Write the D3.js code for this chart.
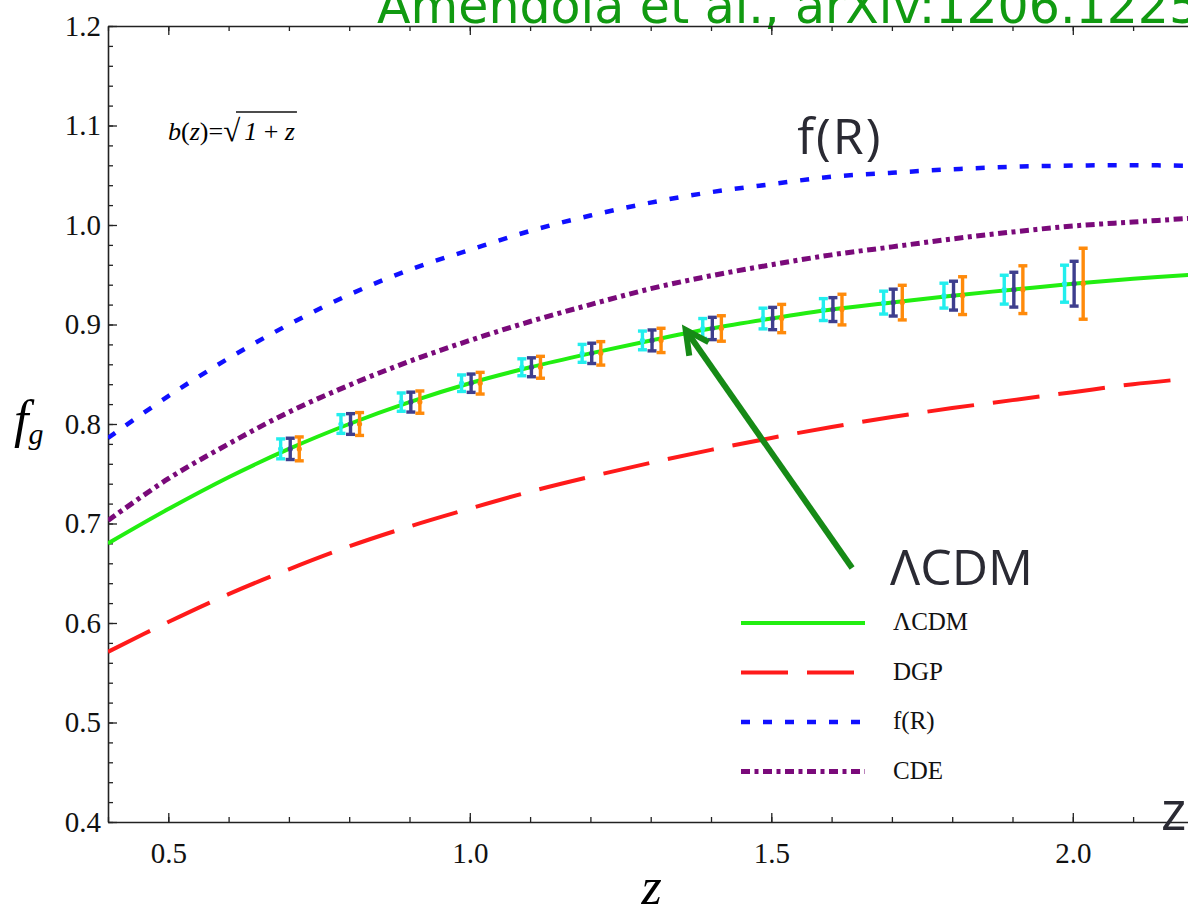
<!DOCTYPE html>
<html>
<head>
<meta charset="utf-8">
<script src="https://cdn.jsdelivr.net/npm/d3@7"></script>
<style>
  body { margin: 0; background: #fff; }
  .tick line { stroke: #222; stroke-width: 1.3; }
  .domain { stroke: #222; stroke-width: 1.6; }
</style>
</head>
<body>
<svg class="chart"></svg>
<script>
// redshift grid of the model curves
var zGrid = [0.4, 0.5, 0.6, 0.7, 0.8, 0.9, 1.0, 1.1, 1.2, 1.3, 1.4, 1.5, 1.6, 1.7, 1.8, 1.9, 2.0, 2.1, 2.2];
var lcdm = [0.680, 0.7145, 0.7465, 0.775, 0.800, 0.822, 0.841, 0.857, 0.871, 0.884, 0.896, 0.906, 0.915, 0.922, 0.929, 0.935, 0.941, 0.946, 0.950];
var dgp  = [0.571, 0.601, 0.629, 0.654, 0.677, 0.697, 0.715, 0.732, 0.747, 0.761, 0.774, 0.786, 0.797, 0.807, 0.816, 0.824, 0.832, 0.840, 0.846];
var fR   = [0.786, 0.828, 0.866, 0.900, 0.930, 0.955, 0.975, 0.994, 1.0095, 1.0225, 1.033, 1.041, 1.0485, 1.0525, 1.056, 1.0585, 1.0597, 1.0601, 1.0595];
var cde  = [0.703, 0.745, 0.780, 0.812, 0.839, 0.863, 0.884, 0.903, 0.920, 0.936, 0.949, 0.960, 0.970, 0.978, 0.986, 0.993, 0.999, 1.003, 1.007];

// forecast points (three surveys) on the LCDM curve
var zData  = [0.7, 0.8, 0.9, 1.0, 1.1, 1.2, 1.3, 1.4, 1.5, 1.6, 1.7, 1.8, 1.9, 2.0];
var fgData = [0.775, 0.800, 0.822, 0.841, 0.857, 0.871, 0.884, 0.896, 0.906, 0.915, 0.922, 0.929, 0.935, 0.941];
var errCyan   = [0.0100, 0.0094, 0.0092, 0.0083, 0.0085, 0.0090, 0.0094, 0.0100, 0.0104, 0.0110, 0.0115, 0.0125, 0.0145, 0.0186];
var errNavy   = [0.0107, 0.0104, 0.0100, 0.0092, 0.0095, 0.0102, 0.0105, 0.0112, 0.0112, 0.0120, 0.0135, 0.0145, 0.0175, 0.0225];
var errOrange = [0.0120, 0.0115, 0.0112, 0.0109, 0.0110, 0.0118, 0.0122, 0.0128, 0.0142, 0.0154, 0.0174, 0.0190, 0.0240, 0.0357];

// ticks
var xMajorTicks = [0.5, 1.0, 1.5, 2.0];
var xMinorTicks = [0.4, 0.5, 0.6, 0.7, 0.8, 0.9, 1.0, 1.1, 1.2, 1.3, 1.4, 1.5, 1.6, 1.7, 1.8, 1.9, 2.0, 2.1, 2.2];
var yMajorTicks = [0.4, 0.5, 0.6, 0.7, 0.8, 0.9, 1.0, 1.1, 1.2];
var yMinorTicks = d3.range(20, 61, 1).map(function (d) { return d / 50; });

var legendNames = ["\u039BCDM", "DGP", "f(R)", "CDE"];

var width = 1188, height = 914;

var svg = d3.select("svg.chart")
    .attr("width", width)
    .attr("height", height);

svg.append("rect").attr("width", width).attr("height", height).attr("fill", "#fff");

// scales
var x = d3.scaleLinear().domain([0.4, 2.2]).range([108, 1193.4]);
var y = d3.scaleLinear().domain([0.4, 1.2]).range([822, 26]);

svg.append("clipPath").attr("id", "plotclip")
    .append("rect")
    .attr("x", x(0.4)).attr("y", y(1.2))
    .attr("width", x(2.2) - x(0.4)).attr("height", y(0.4) - y(1.2));

// title (cut off at the top in the source)
svg.append("text")
    .text("Amendola et al., arXiv:1206.1225")
    .attr("x", 377)
    .attr("y", 23)
    .attr("font-family", "DejaVu Sans")
    .attr("font-size", 49)
    .attr("fill", "#119a11");

// frame axes, ticks point inward
function tickLabels(g, size) {
    g.selectAll("text")
        .attr("font-family", "Liberation Serif")
        .attr("font-size", size)
        .attr("fill", "#111");
}

svg.append("g")
    .attr("transform", "translate(0," + y(0.4) + ")")
    .call(d3.axisBottom(x).tickValues(xMinorTicks).tickSize(-5).tickSizeOuter(0).tickFormat(""));
svg.append("g")
    .attr("transform", "translate(0," + y(0.4) + ")")
    .call(d3.axisBottom(x).tickValues(xMajorTicks).tickSize(-9).tickSizeOuter(0)
        .tickPadding(20).tickFormat(d3.format(".1f")))
    .call(function (g) { g.select(".domain").remove(); tickLabels(g, 29); });

svg.append("g")
    .attr("transform", "translate(0," + y(1.2) + ")")
    .call(d3.axisTop(x).tickValues(xMinorTicks).tickSize(-5).tickSizeOuter(0).tickFormat(""));
svg.append("g")
    .attr("transform", "translate(0," + y(1.2) + ")")
    .call(d3.axisTop(x).tickValues(xMajorTicks).tickSize(-9).tickSizeOuter(0).tickFormat(""))
    .call(function (g) { g.select(".domain").remove(); });

svg.append("g")
    .attr("transform", "translate(" + x(0.4) + ",0)")
    .call(d3.axisLeft(y).tickValues(yMinorTicks).tickSize(-5).tickSizeOuter(0).tickFormat(""));
svg.append("g")
    .attr("transform", "translate(" + x(0.4) + ",0)")
    .call(d3.axisLeft(y).tickValues(yMajorTicks).tickSize(-9).tickSizeOuter(0)
        .tickPadding(7).tickFormat(d3.format(".1f")))
    .call(function (g) { g.select(".domain").remove(); tickLabels(g, 29); });

svg.append("g")
    .attr("transform", "translate(" + x(2.2) + ",0)")
    .call(d3.axisRight(y).tickValues(yMinorTicks).tickSize(-5).tickSizeOuter(0).tickFormat(""));

// axis titles
var fg = svg.append("text")
    .attr("font-family", "Liberation Serif")
    .attr("font-style", "italic")
    .attr("x", 14)
    .attr("y", 437);
fg.append("tspan").attr("font-size", 52).text("f");
fg.append("tspan").attr("font-size", 30).attr("dy", 7).text("g");

svg.append("text")
    .text("z")
    .attr("font-family", "Liberation Serif")
    .attr("font-style", "italic")
    .attr("font-size", 52)
    .attr("text-anchor", "middle")
    .attr("x", (x(0.4) + x(2.2)) / 2 + 1)
    .attr("y", 904);

// bias label
var bz = svg.append("text")
    .attr("font-family", "Liberation Serif")
    .attr("font-size", 26)
    .attr("x", 168)
    .attr("y", 140);
bz.append("tspan").attr("font-style", "italic").text("b");
bz.append("tspan").text("(");
bz.append("tspan").attr("font-style", "italic").text("z");
bz.append("tspan").text(")=");
bz.append("tspan").attr("font-size", 31).attr("dy", 1).text("\u221A");
bz.append("tspan").attr("font-style", "italic").attr("dx", 4).attr("dy", -1).text("1");
bz.append("tspan").text(" + ");
bz.append("tspan").attr("font-style", "italic").text("z");
var bzBox = bz.node().getBBox();
svg.append("line")
    .attr("x1", 236).attr("x2", bzBox.x + bzBox.width + 2)
    .attr("y1", 112).attr("y2", 112)
    .attr("stroke", "#111").attr("stroke-width", 1.3);

// model curves
var line = d3.line()
    .x(function (d) { return x(d[0]); })
    .y(function (d) { return y(d[1]); })
    .curve(d3.curveCatmullRom.alpha(0.5));

var curves = [
    { name: "DGP", values: dgp, color: "#ff1a1a", width: 4, dash: "47,19" },
    { name: "f(R)", values: fR, color: "#1010ff", width: 4.5, dash: "9,13" },
    { name: "CDE", values: cde, color: "#7a0a7a", width: 5, dash: "9,4.5,4,4.5" },
    { name: "LCDM", values: lcdm, color: "#22ee11", width: 4, dash: null }
];

var plot = svg.append("g").attr("clip-path", "url(#plotclip)");

curves.forEach(function (c) {
    plot.append("path")
        .datum(zGrid.map(function (z, i) { return [z, c.values[i]]; }))
        .attr("d", line)
        .attr("fill", "none")
        .attr("stroke", c.color)
        .attr("stroke-width", c.width)
        .attr("stroke-dasharray", c.dash);
});

// error bars: three surveys side by side
var surveys = [
    { err: errCyan, color: "#22eeee", shift: -0.0137 },
    { err: errNavy, color: "#3e3e8e", shift: 0.0022 },
    { err: errOrange, color: "#ff8a0a", shift: 0.0172 }
];

surveys.forEach(function (s) {
    var g = plot.append("g").attr("stroke", s.color).attr("fill", s.color).attr("stroke-width", 3.4);
    zData.forEach(function (z, i) {
        var cx = x(z + s.shift);
        var top = y(fgData[i] + s.err[i]), bot = y(fgData[i] - s.err[i]);
        g.append("line").attr("x1", cx).attr("x2", cx).attr("y1", top).attr("y2", bot);
        g.append("line").attr("x1", cx - 4.5).attr("x2", cx + 4.5).attr("y1", top).attr("y2", top);
        g.append("line").attr("x1", cx - 4.5).attr("x2", cx + 4.5).attr("y1", bot).attr("y2", bot);
        g.append("circle").attr("cx", cx).attr("cy", y(fgData[i])).attr("r", 2.6).attr("stroke", "none");
    });
});

// annotation arrow pointing to the LCDM curve
var tip = [x(1.358), y(0.8945)], tail = [x(1.634), y(0.6553)];
var ang = Math.atan2(tail[1] - tip[1], tail[0] - tip[0]);
var headLen = 26, spread = 27 * Math.PI / 180;
svg.append("line")
    .attr("x1", tail[0]).attr("y1", tail[1])
    .attr("x2", tip[0] + 3 * Math.cos(ang)).attr("y2", tip[1] + 3 * Math.sin(ang))
    .attr("stroke", "#168a16").attr("stroke-width", 6);
svg.append("path")
    .attr("d", "M" + [tip[0] + headLen * Math.cos(ang + spread), tip[1] + headLen * Math.sin(ang + spread)] +
        "L" + tip + "L" + [tip[0] + headLen * Math.cos(ang - spread), tip[1] + headLen * Math.sin(ang - spread)])
    .attr("fill", "none")
    .attr("stroke", "#168a16").attr("stroke-width", 6)
    .attr("stroke-linejoin", "miter");

// big slide labels
svg.append("text")
    .text("f(R)")
    .attr("font-family", "Open Sans")
    .attr("font-size", 50)
    .attr("letter-spacing", 2)
    .attr("fill", "#2a2a33")
    .attr("x", x(1.543))
    .attr("y", y(1.0715));

svg.append("text")
    .text("\u039BCDM")
    .attr("font-family", "Open Sans")
    .attr("font-size", 50)
    .attr("fill", "#2a2a33")
    .attr("x", x(1.697))
    .attr("y", y(0.6385));

svg.append("text")
    .text("z")
    .attr("font-family", "Open Sans")
    .attr("font-size", 54)
    .attr("fill", "#2a2a33")
    .attr("x", 1161)
    .attr("y", 830);

// legend
var legend = svg.append("g").attr("transform", "translate(741,623)");
var legendOrder = [curves[3], curves[0], curves[1], curves[2]];
legendOrder.forEach(function (c, i) {
    var row = legend.append("g").attr("transform", "translate(0," + (i * 49.5) + ")");
    row.append("line")
        .attr("x1", 0).attr("x2", 124)
        .attr("stroke", c.color)
        .attr("stroke-width", c.width)
        .attr("stroke-dasharray", c.dash);
    row.append("text")
        .text(legendNames[i])
        .attr("font-family", "Liberation Serif")
        .attr("font-size", 25)
        .attr("fill", "#111")
        .attr("x", 152)
        .attr("y", 7);
});
</script>
</body>
</html>
